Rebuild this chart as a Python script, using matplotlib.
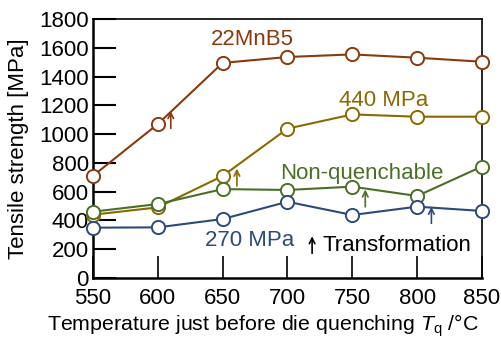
import numpy as np
import matplotlib.pyplot as plt

plt.rcParams['font.family'] = ['Liberation Sans', 'DejaVu Sans']
plt.rcParams['mathtext.fontset'] = 'custom'
plt.rcParams['mathtext.it'] = 'Liberation Sans:italic'
plt.rcParams['mathtext.rm'] = 'Liberation Sans'

#___data___#
temps = [550, 600, 650, 700, 750, 800, 850]
mnb5 = [710, 1070, 1495, 1536, 1554, 1531, 1503]
mpa440 = [440, 491, 709, 1038, 1137, 1121, 1121]
nonq = [461, 514, 618, 612, 635, 570, 775]
mpa270 = [350, 352, 410, 530, 438, 496, 466]

# transformation arrows: (x, y_start, y_end, colour)
arrows = [(610, 1040, 1160, "#8B3A0E"), (661, 640, 760, "#8A6A00"),
          (760, 495, 615, "#4A7027"), (811, 380, 495, "#2C4A7F"),
          (719, 172, 290, "black")]

fig = plt.figure(figsize=(5.01, 3.37), dpi=100)
ax = fig.add_axes([0.1856, 0.175, 0.7764, 0.7686])

series = [(mnb5, "#8B3A0E"), (mpa440, "#8A6A00"), (nonq, "#4A7027"), (mpa270, "#2C4A7F")]
for vals, col in series:
    ax.plot(temps, vals, color=col, lw=1.5, marker='o', ms=9.5, mfc='white',
            mec=col, mew=1.4, clip_on=False, zorder=3)

for x, y0, y1, col in arrows:
    ax.annotate("", xy=(x, y1), xytext=(x, y0),
                arrowprops=dict(arrowstyle='->', color=col, lw=1.2, shrinkA=0, shrinkB=0,
                                mutation_scale=10))

ax.text(673, 1655, "22MnB5", color="#8B3A0E", fontsize=16, ha='center', va='center')
ax.text(774, 1237, "440 MPa", color="#8A6A00", fontsize=16, ha='center', va='center')
ax.text(757, 725, "Non-quenchable", color="#4A7027", fontsize=16, ha='center', va='center')
ax.text(671, 262, "270 MPa", color="#2C4A7F", fontsize=16, ha='center', va='center')
ax.text(727, 229, "Transformation", color="black", fontsize=16, ha='left', va='center')

#___axes formatting___#
ax.set_xlim(550, 850)
ax.set_ylim(0, 1800)
ax.set_xticks(temps)
ax.set_yticks(np.arange(0, 1801, 200))
ax.tick_params(axis='y', direction='in', length=16.5, width=1.5, labelsize=16, pad=3)
ax.tick_params(axis='x', direction='in', length=16, width=1.2, labelsize=16, pad=7)
for s in ['left', 'bottom']:
    ax.spines[s].set_linewidth(1.8)
for s in ['top', 'right']:
    ax.spines[s].set_linewidth(1.2)

ax.set_ylabel("Tensile strength [MPa]", fontsize=16)
ax.yaxis.set_label_coords(-0.165, 0.5)
ax.set_xlabel("Temperature just before die quenching $T_{\\mathrm{q}}$ /\u00b0C", fontsize=15.4)
ax.xaxis.set_label_coords(0.437, -0.133)

fig.savefig("out.png", dpi=100)
